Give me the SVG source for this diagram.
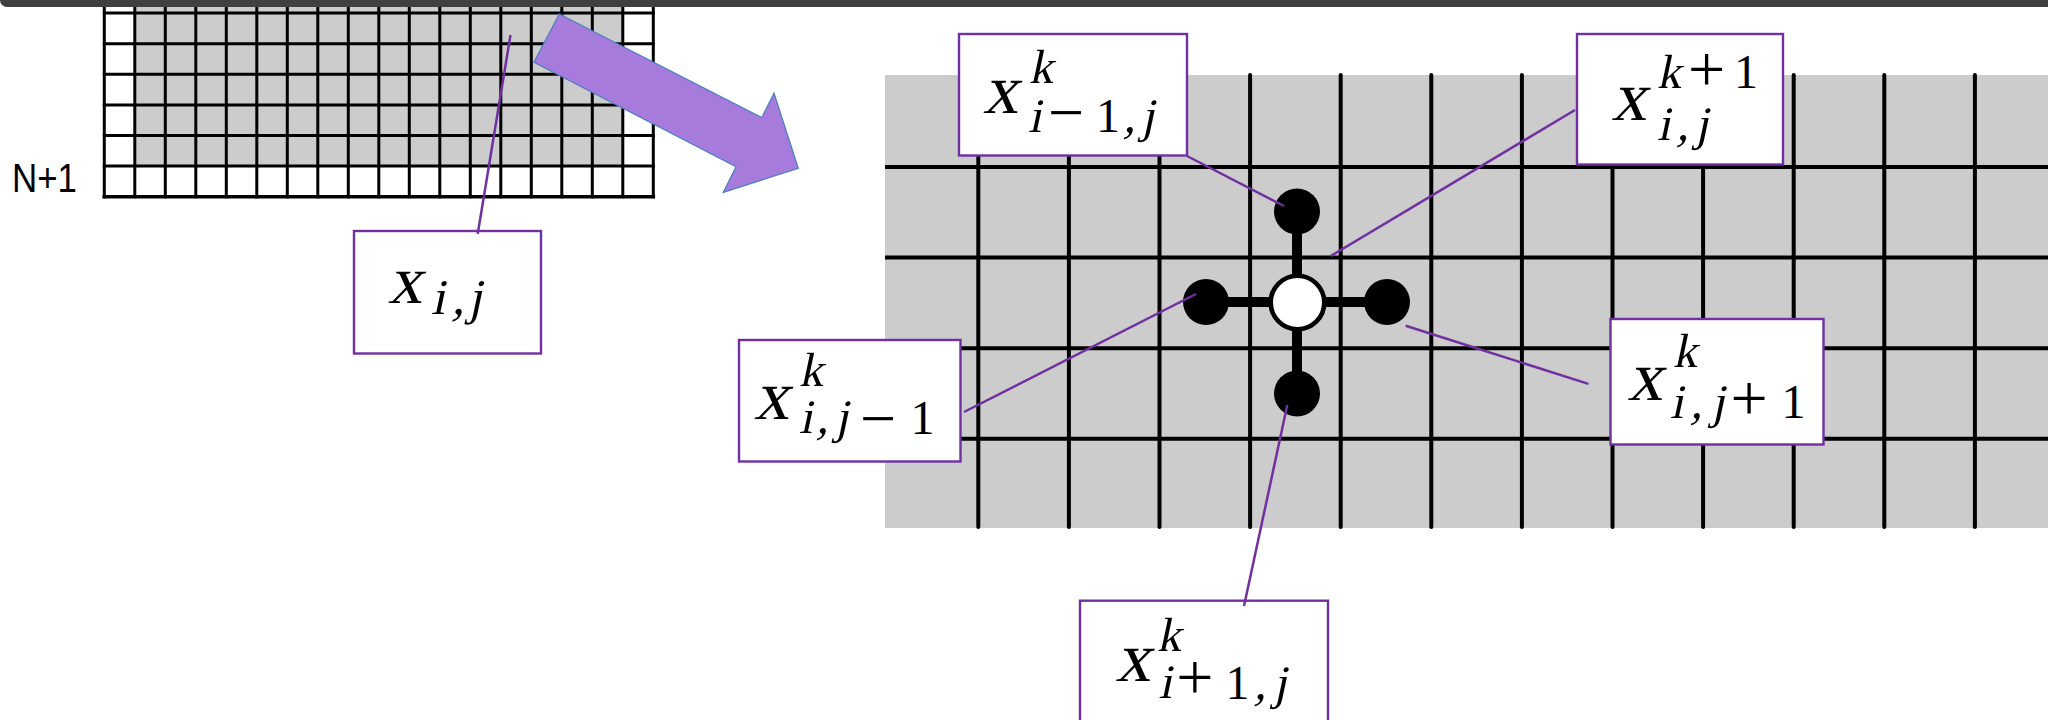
<svg xmlns="http://www.w3.org/2000/svg" width="2048" height="720" viewBox="0 0 2048 720">
  <style>
    .gl { stroke: #000; stroke-width: 3; fill: none; stroke-linecap: square; }
    .gr { stroke: #000; stroke-width: 4; fill: none; stroke-linecap: round; }
    .box { fill: #fff; stroke: #7030A0; stroke-width: 2.4; }
    .lead { stroke: #7030A0; stroke-width: 2.5; fill: none; }
    .m { font-family: "Liberation Serif", "Times New Roman", serif; font-style: normal; fill: #000; }
    .big { font-size: 70px; }
    .sc { font-size: 48px; }
    .op { font-size: 64px; }
    .pl { font-size: 66px; }
  </style>
  <rect width="2048" height="720" fill="#fff"/>

  <!-- left grid -->
  <g id="grid-left">
    <rect x="134.8" y="0" width="488.2" height="166.1" fill="#cccccc"/>
    <path class="gl" d="M104.3,-20V196.7 M134.8,-20V196.7 M165.3,-20V196.7 M195.8,-20V196.7 M226.3,-20V196.7 M256.8,-20V196.7 M287.3,-20V196.7 M317.8,-20V196.7 M348.3,-20V196.7 M378.8,-20V196.7 M409.3,-20V196.7 M439.8,-20V196.7 M470.3,-20V196.7 M500.8,-20V196.7 M531.3,-20V196.7 M561.8,-20V196.7 M592.3,-20V196.7 M622.8,-20V196.7 M653.3,-20V196.7"/>
    <path class="gl" d="M104.3,13.1H653.3 M104.3,43.7H653.3 M104.3,74.3H653.3 M104.3,104.9H653.3 M104.3,135.5H653.3 M104.3,166.1H653.3"/>
    <path class="gl" style="stroke-width:3.6" d="M104.3,196.7H653.3"/>
    <text x="12" y="192" font-family="Liberation Sans, Arial, sans-serif" font-size="40" textLength="65" lengthAdjust="spacingAndGlyphs">N+1</text>
  </g>

  <!-- top dark bar -->
  <path id="topbar" d="M0,0H2048V7H7A7,7 0 0 1 0,0Z" fill="#404040"/>

  <!-- right grid -->
  <g id="grid-right">
    <rect x="885" y="75" width="1163" height="453" fill="#cccccc"/>
    <path class="gr" d="M978.3,75V527 M1068.9,75V527 M1159.5,75V527 M1250.1,75V527 M1340.7,75V527 M1431.3,75V527 M1521.9,75V527 M1612.5,75V527 M1703.1,75V527 M1793.7,75V527 M1884.3,75V527 M1974.9,75V527"/>
    <path class="gr" style="stroke-linecap:butt" d="M885,167H2048 M885,257.6H2048 M885,348.2H2048 M885,438.8H2048"/>
  </g>

  <!-- stencil -->
  <g id="stencil">
    <path d="M1206,302H1387 M1297,211.5V393" stroke="#000" stroke-width="10" fill="none"/>
    <circle cx="1297" cy="211.5" r="23" fill="#000"/>
    <circle cx="1297" cy="393.5" r="23" fill="#000"/>
    <circle cx="1206" cy="302" r="23" fill="#000"/>
    <circle cx="1387" cy="302" r="23" fill="#000"/>
    <circle cx="1297.5" cy="302.5" r="26.8" fill="#fff" stroke="#000" stroke-width="4.6"/>
  </g>

  <!-- label nodes -->
  <g id="node-xij">
    <rect class="box" x="354" y="231" width="187" height="122.5"/>
    <g transform="translate(0,303) skewX(-12)">
      <text class="m"><tspan x="388" y="0" font-size="68">x</tspan><tspan x="433.3" y="11" font-size="50">i</tspan><tspan x="454.3" y="11" font-size="50">,</tspan><tspan x="470.3" y="11" font-size="50">j</tspan></text>
    </g>
  </g>

  <g id="node-xim1j">
    <rect class="box" x="959" y="34" width="228" height="121.5"/>
    <g transform="translate(0,113) skewX(-12)">
      <text class="m"><tspan class="big" x="983" y="0">x</tspan><tspan class="sc" x="1022.6" y="-30">k</tspan><tspan class="sc" x="1032" y="19">i</tspan><tspan class="sc" x="1127.5" y="19">,</tspan><tspan class="sc" x="1145" y="19">j</tspan></text>
    </g>
    <text class="m"><tspan class="op" x="1048" y="134">−</tspan><tspan class="sc" x="1096" y="132">1</tspan></text>
  </g>

  <g id="node-xijkp1">
    <rect class="box" x="1577" y="34" width="206" height="130.5"/>
    <g transform="translate(0,120) skewX(-12)">
      <text class="m"><tspan class="big" x="1611.5" y="0">x</tspan><tspan class="sc" x="1650.2" y="-32">k</tspan><tspan class="sc" x="1661.3" y="20">i</tspan><tspan class="sc" x="1680.9" y="20">,</tspan><tspan class="sc" x="1699.3" y="20">j</tspan></text>
    </g>
    <text class="m"><tspan class="pl" x="1688" y="91">+</tspan><tspan class="sc" x="1734" y="88">1</tspan></text>
  </g>

  <g id="node-xijm1">
    <rect class="box" x="739" y="340" width="221.5" height="121.5"/>
    <g transform="translate(0,419) skewX(-12)">
      <text class="m"><tspan class="big" x="754" y="0">x</tspan><tspan class="sc" x="792" y="-33">k</tspan><tspan class="sc" x="802" y="14">i</tspan><tspan class="sc" x="819.6" y="14">,</tspan><tspan class="sc" x="838" y="14">j</tspan></text>
    </g>
    <text class="m"><tspan class="op" x="860" y="440">−</tspan><tspan class="sc" x="910.4" y="434">1</tspan></text>
  </g>

  <g id="node-xijp1">
    <rect class="box" x="1610.5" y="319" width="213" height="125.5"/>
    <g transform="translate(0,400) skewX(-12)">
      <text class="m"><tspan class="big" x="1627.5" y="0">x</tspan><tspan class="sc" x="1666" y="-33">k</tspan><tspan class="sc" x="1673.8" y="18">i</tspan><tspan class="sc" x="1694.4" y="18">,</tspan><tspan class="sc" x="1715.2" y="18">j</tspan></text>
    </g>
    <text class="m"><tspan class="pl" x="1730.4" y="420.3">+</tspan><tspan class="sc" x="1781.4" y="418">1</tspan></text>
  </g>

  <g id="node-xip1j">
    <rect class="box" x="1080" y="600.7" width="248" height="130"/>
    <g transform="translate(0,681) skewX(-12)">
      <text class="m"><tspan class="big" x="1115.5" y="0">x</tspan><tspan class="sc" x="1150.6" y="-30">k</tspan><tspan class="sc" x="1162.1" y="17">i</tspan><tspan class="sc" x="1258.2" y="18">,</tspan><tspan class="sc" x="1277.2" y="18">j</tspan></text>
    </g>
    <text class="m"><tspan class="pl" x="1176.3" y="699.4">+</tspan><tspan class="sc" x="1225.4" y="699">1</tspan></text>
  </g>

  <!-- connectors -->
  <g id="connectors">
    <polygon points="559.3,14 761.7,117.7 774,93.3 798.3,168.3 723.3,192.3 736,166.7 534,62.3" fill="#A77BDB" stroke="#4E7FC4" stroke-width="1.3" stroke-linejoin="miter"/>
    <line class="lead" x1="510.5" y1="35" x2="477.7" y2="234"/>
    <line class="lead" x1="1187" y1="156" x2="1284" y2="206"/>
    <line class="lead" x1="1575" y1="110" x2="1330.7" y2="256"/>
    <line class="lead" x1="964" y1="412" x2="1196" y2="294"/>
    <line class="lead" x1="1405.7" y1="325.7" x2="1588.4" y2="383.9"/>
    <line class="lead" x1="1287.3" y1="405" x2="1244" y2="606"/>
  </g>
</svg>
